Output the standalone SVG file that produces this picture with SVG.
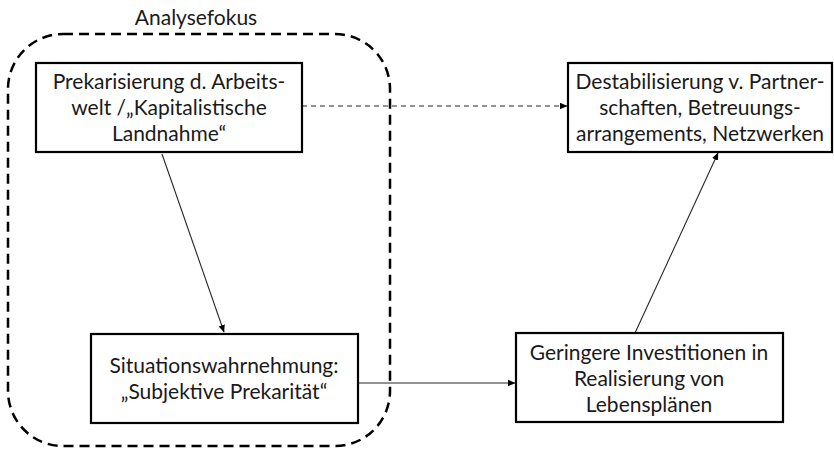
<svg xmlns="http://www.w3.org/2000/svg" width="834" height="449" viewBox="0 0 834 449">
  <style>
    .box { fill: #ffffff; stroke: #000000; stroke-width: 2.2; }
    .lbl { font-family: Lato, "Open Sans", "Liberation Sans", sans-serif; font-size: 21px; fill: #1a1a1a; text-anchor: middle; }
    .focus { fill: none; stroke: #000000; stroke-width: 2.5; stroke-dasharray: 10 6; }
    .conn { fill: none; stroke: #262626; stroke-width: 1.1; }
    .dashed { stroke-dasharray: 5 4; }
  </style>
  <defs>
    <marker id="arr" markerWidth="8" markerHeight="8" refX="7" refY="4" orient="auto" markerUnits="userSpaceOnUse">
      <path d="M0,0.8 L7.5,4 L0,7.2 Z" fill="#000000"/>
    </marker>
  </defs>
  <rect width="834" height="449" fill="#ffffff"/>

  <g id="analysefokus">
    <rect class="focus" x="8" y="34" width="382" height="412" rx="55" ry="55"/>
    <text class="lbl" x="196" y="25">Analysefokus</text>
  </g>

  <g id="connectors">
    <line class="conn" x1="162" y1="154" x2="224" y2="332" marker-end="url(#arr)"/>
    <line class="conn dashed" x1="302" y1="106" x2="567" y2="106" marker-end="url(#arr)"/>
    <line class="conn" x1="358" y1="383" x2="515" y2="383" marker-end="url(#arr)"/>
    <line class="conn" x1="635" y1="333" x2="718" y2="153" marker-end="url(#arr)"/>
  </g>

  <g id="prekarisierung">
    <rect class="box" x="36" y="63" width="266" height="89"/>
    <text class="lbl" x="169" y="89">Prekarisierung d. Arbeits-</text>
    <text class="lbl" x="169" y="115">welt /„Kapitalistische</text>
    <text class="lbl" x="169" y="141">Landnahme“</text>
  </g>

  <g id="situationswahrnehmung">
    <rect class="box" x="91" y="334" width="267" height="89"/>
    <text class="lbl" x="224" y="373">Situationswahrnehmung:</text>
    <text class="lbl" x="224" y="399">„Subjektive Prekarität“</text>
  </g>

  <g id="destabilisierung">
    <rect class="box" x="568" y="63" width="264" height="89"/>
    <text class="lbl" x="700" y="89">Destabilisierung v. Partner-</text>
    <text class="lbl" x="700" y="115">schaften, Betreuungs-</text>
    <text class="lbl" x="700" y="141">arrangements, Netzwerken</text>
  </g>

  <g id="investitionen">
    <rect class="box" x="516" y="333" width="267" height="89"/>
    <text class="lbl" x="649" y="360">Geringere Investitionen in</text>
    <text class="lbl" x="649" y="386">Realisierung von</text>
    <text class="lbl" x="649" y="412">Lebensplänen</text>
  </g>
</svg>
